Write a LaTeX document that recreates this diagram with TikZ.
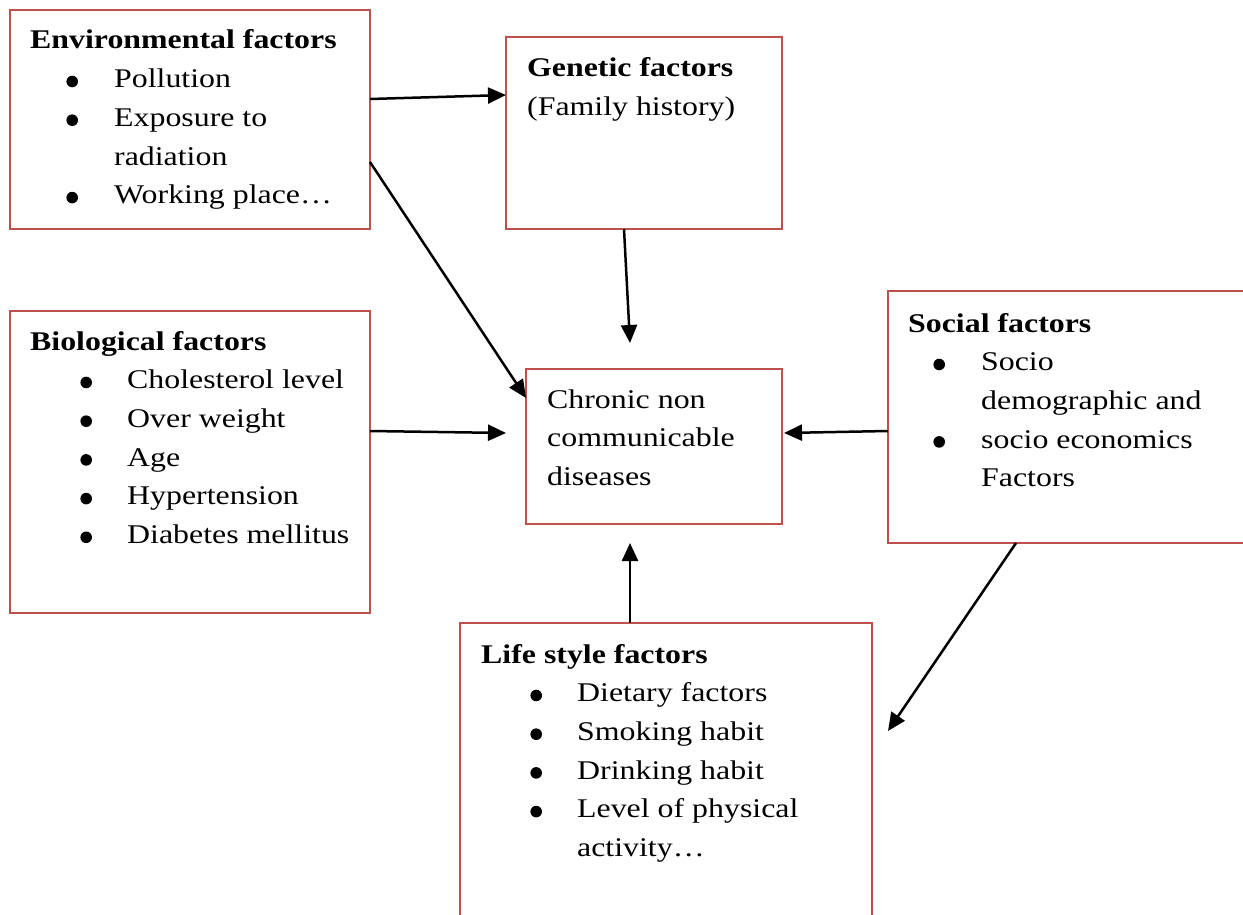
\documentclass[tikz,border=0pt]{standalone}
\usepackage{fontspec}
\setmainfont{Liberation Serif}[FakeStretch=1.18]
\usepackage{tikz}
\usetikzlibrary{arrows.meta,calc,positioning}
\definecolor{boxred}{RGB}{192,80,77}
\newcommand{\bdot}{\tikz[baseline=0pt]\fill (0pt,6.2pt) circle[radius=5.8pt];}
\newcommand{\bitem}[3]{\par\noindent\makebox[0pt][l]{\hspace*{#1}\makebox[0pt][c]{\bdot}}\hspace*{#2}#3}
\newcommand{\bcont}[2]{\par\noindent\hspace*{#1}#2}
\tikzset{
	factor diagram/.style={x=1pt, y=-1pt,
		font=\fontsize{27}{38.7}\selectfont},
	fb/.style 2 args={draw=boxred, line width=2pt, outer sep=0pt, inner sep=0pt,
		anchor=north west, minimum width=#1pt, minimum height=#2pt},
	ftext/.style={anchor=base west, inner sep=0pt},
	ar/.style={-{Triangle[length=18pt,width=16pt]}, line width=2.5pt}
}

\begin{document}
\begin{tikzpicture}[factor diagram]
	\useasboundingbox (0,0) rectangle (1243,915);
	\clip (0,0) rectangle (1243,915);
	% boxes
	\node[fb={360}{219}] (env) at (10,10) {};
	\node[fb={276}{192}] (gen) at (506,37) {};
	\node[fb={360}{302}] (bio) at (10,311) {};
	\node[fb={256}{155}] (chr) at (526,369) {};
	\node[fb={420}{252}] (soc) at (888,291) {};
	\node[fb={412}{400}] (life) at (460,623) {};
	% texts
	\node[ftext] (envtext) at ($(env.north west)+(20,39)$) {\parbox[t]{330pt}{%
		{\bfseries Environmental factors}
		\bitem{42pt}{84pt}{Pollution}
		\bitem{42pt}{84pt}{Exposure to}
		\bcont{84pt}{radiation}
		\bitem{42pt}{84pt}{Working place\ldots}}};
	\node[ftext] (gentext) at ($(gen.north west)+(21,40)$) {\parbox[t]{250pt}{%
		{\bfseries Genetic factors}\par
		(Family history)}};
	\node[ftext] (biotext) at ($(bio.north west)+(20,39)$) {\parbox[t]{330pt}{%
		{\bfseries Biological factors}
		\bitem{56pt}{97pt}{Cholesterol level}
		\bitem{56pt}{97pt}{Over weight}
		\bitem{56pt}{97pt}{Age}
		\bitem{56pt}{97pt}{Hypertension}
		\bitem{56pt}{97pt}{Diabetes mellitus}}};
	\node[ftext] (chrtext) at ($(chr.north west)+(21,39)$) {\parbox[t]{230pt}{%
		Chronic non\par
		communicable\par
		diseases}};
	\node[ftext] (soctext) at ($(soc.north west)+(20,41)$) {\parbox[t]{340pt}{%
		{\bfseries Social factors}
		\bitem{31pt}{73pt}{Socio}
		\bcont{73pt}{demographic and}
		\bitem{31pt}{73pt}{socio economics}
		\bcont{73pt}{Factors}}};
	\node[ftext] (lifetext) at ($(life.north west)+(21,40)$) {\parbox[t]{380pt}{%
		{\bfseries Life style factors}
		\bitem{55pt}{96pt}{Dietary factors}
		\bitem{55pt}{96pt}{Smoking habit}
		\bitem{55pt}{96pt}{Drinking habit}
		\bitem{55pt}{96pt}{Level of physical}
		\bcont{96pt}{activity\ldots}}};
	% free arrow ends
	\coordinate (genend) at ($(chr.north west)+(104,-26)$);
	\coordinate (bioend) at ($(chr.north west)+(-20,64)$);
	\coordinate (lifeend) at ($(chr.south west)+(104,19)$);
	\coordinate (socend) at ($(life.north east)+(16,108)$);
	% arrows
	\draw[ar] ($(env.north east)+(0,89)$) -- ($(gen.north west)+(0,58)$);
	\draw[ar] ($(env.north east)+(0,152)$) -- ($(chr.north west)+(0,29)$);
	\draw[ar] ($(gen.south west)+(118,0)$) -- (genend);
	\draw[ar] ($(bio.north east)+(0,120)$) -- (bioend);
	\draw[ar] ($(soc.north west)+(0,140)$) -- ($(chr.north east)+(2,64)$);
	\draw[ar] ($(life.north west)+(170,0)$) -- (lifeend);
	\draw[ar] ($(soc.south west)+(128,0)$) -- (socend);
\end{tikzpicture}
\end{document}
